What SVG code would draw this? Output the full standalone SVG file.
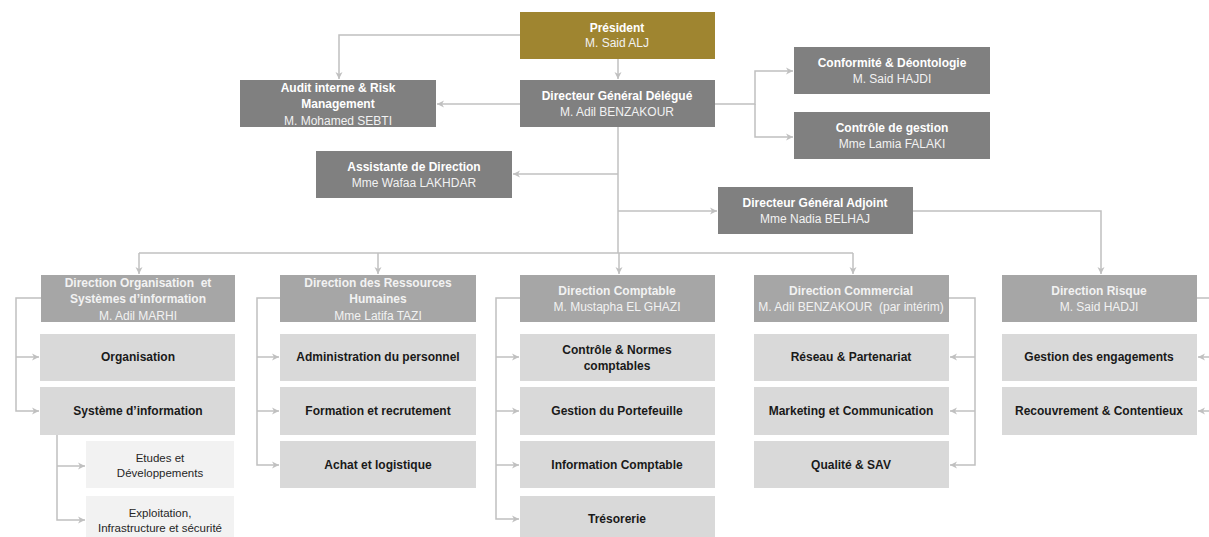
<svg xmlns="http://www.w3.org/2000/svg" width="1209" height="537" viewBox="0 0 1209 537">
<defs>
<marker id="ah" markerUnits="userSpaceOnUse" markerWidth="8" markerHeight="8" refX="7" refY="4" orient="auto">
<path d="M0,0.5 L7,4 L0,7.5 L2,4 Z" fill="#c0c0c0"/>
</marker>
<style>
text{font-family:"Liberation Sans",Arial,sans-serif;font-size:12px;text-anchor:middle}
.top rect{fill:#808080}
.pres rect{fill:#9f8530}
.dir rect{fill:#a6a6a6}
.svc rect{fill:#d9d9d9}
.sub rect{fill:#f2f2f2}
.top text,.pres text,.dir text{fill:#f2f2f2}
.b{font-weight:bold}
.top .b,.pres .b{fill:#ffffff}
.svc text{fill:#1a1a1a;font-weight:bold}
.sub text{fill:#262626;font-size:11.5px}
.c path{fill:none;stroke:#c0c0c0;stroke-width:1.5}
.c .a{marker-end:url(#ah)}
</style>
</defs>
<rect width="1209" height="537" fill="#ffffff"/>
<g class="c" id="connectors">
<path class="a" d="M520,35 H339 V79"/>
<path class="a" d="M618,59 V79"/>
<path class="a" d="M520,104 H437"/>
<path class="a" d="M715,104 H755 V71 H793"/>
<path class="a" d="M755,104 V137 H793"/>
<path d="M618,127 V253"/>
<path class="a" d="M618,174 H513"/>
<path class="a" d="M618,211 H717"/>
<path d="M139,253 H853"/>
<path class="a" d="M139,253 V274"/>
<path class="a" d="M378,253 V274"/>
<path class="a" d="M619,253 V274"/>
<path class="a" d="M853,253 V274"/>
<path class="a" d="M913,211 H1101 V274"/>
<path class="a" d="M41,298 H16 V411 H39"/>
<path class="a" d="M16,357 H39"/>
<path class="a" d="M57,435 V520 H85"/>
<path class="a" d="M57,466 H85"/>
<path class="a" d="M280,298 H257 V465 H279"/>
<path class="a" d="M257,357 H279"/>
<path class="a" d="M257,411 H279"/>
<path class="a" d="M520,298 H496 V519 H519"/>
<path class="a" d="M496,357 H519"/>
<path class="a" d="M496,411 H519"/>
<path class="a" d="M496,465 H519"/>
<path class="a" d="M949,298 H975 V465 H950"/>
<path class="a" d="M975,357 H950"/>
<path class="a" d="M975,411 H950"/>
<path class="a" d="M1197,298 H1225 V411 H1198"/>
<path class="a" d="M1225,357 H1198"/>
</g>
<g id="president" class="pres"><rect x="520" y="12" width="195" height="47"/><text x="617" y="32" class="b">Président</text><text x="617" y="47">M. Said ALJ</text></g>
<g id="audit" class="top"><rect x="240" y="80" width="196" height="47"/><text x="338" y="92" class="b">Audit interne &amp; Risk</text><text x="338" y="108" class="b">Management</text><text x="338" y="125">M. Mohamed SEBTI</text></g>
<g id="dgd" class="top"><rect x="520" y="80" width="195" height="47"/><text x="617" y="100" class="b">Directeur Général Délégué</text><text x="617" y="116">M. Adil BENZAKOUR</text></g>
<g id="assistante" class="top"><rect x="316" y="151" width="196" height="47"/><text x="414" y="171" class="b">Assistante de Direction</text><text x="414" y="187">Mme Wafaa LAKHDAR</text></g>
<g id="conformite" class="top"><rect x="794" y="47" width="196" height="47"/><text x="892" y="67" class="b">Conformité &amp; Déontologie</text><text x="892" y="83">M. Said HAJDI</text></g>
<g id="controle-gestion" class="top"><rect x="794" y="112" width="196" height="47"/><text x="892" y="132" class="b">Contrôle de gestion</text><text x="892" y="148">Mme Lamia FALAKI</text></g>
<g id="dga" class="top"><rect x="718" y="187" width="195" height="47"/><text x="815" y="207" class="b">Directeur Général Adjoint</text><text x="815" y="223">Mme Nadia BELHAJ</text></g>
<g id="dir-osi" class="dir"><rect x="41" y="275" width="194" height="47"/><text x="138" y="287" class="b">Direction Organisation &#160;et</text><text x="138" y="303" class="b">Systèmes d’information</text><text x="138" y="320">M. Adil MARHI</text></g>
<g id="dir-rh" class="dir"><rect x="280" y="275" width="196" height="47"/><text x="378" y="287" class="b">Direction des Ressources</text><text x="378" y="303" class="b">Humaines</text><text x="378" y="320">Mme Latifa TAZI</text></g>
<g id="dir-comptable" class="dir"><rect x="520" y="275" width="195" height="47"/><text x="617" y="295" class="b">Direction Comptable</text><text x="617" y="311">M. Mustapha EL GHAZI</text></g>
<g id="dir-commercial" class="dir"><rect x="754" y="275" width="195" height="47"/><text x="851" y="295" class="b">Direction Commercial</text><text x="851" y="311">M. Adil BENZAKOUR &#160;(par intérim)</text></g>
<g id="dir-risque" class="dir"><rect x="1002" y="275" width="195" height="47"/><text x="1099" y="295" class="b">Direction Risque</text><text x="1099" y="311">M. Said HADJI</text></g>
<g id="organisation" class="svc"><rect x="40" y="334" width="195" height="47"/><text x="138" y="361">Organisation</text></g>
<g id="systeme-information" class="svc"><rect x="40" y="387" width="195" height="48"/><text x="138" y="415">Système d’information</text></g>
<g id="etudes" class="sub"><rect x="86" y="441" width="148" height="47"/><text x="160" y="462">Etudes et</text><text x="160" y="477">Développements</text></g>
<g id="exploitation" class="sub"><rect x="86" y="496" width="148" height="47"/><text x="160" y="517">Exploitation,</text><text x="160" y="532">Infrastructure et sécurité</text></g>
<g id="administration" class="svc"><rect x="280" y="334" width="196" height="47"/><text x="378" y="361">Administration du personnel</text></g>
<g id="formation" class="svc"><rect x="280" y="387" width="196" height="48"/><text x="378" y="415">Formation et recrutement</text></g>
<g id="achat" class="svc"><rect x="280" y="441" width="196" height="47"/><text x="378" y="469">Achat et logistique</text></g>
<g id="controle-normes" class="svc"><rect x="520" y="334" width="195" height="47"/><text x="617" y="354">Contrôle &amp; Normes</text><text x="617" y="370">comptables</text></g>
<g id="portefeuille" class="svc"><rect x="520" y="387" width="195" height="48"/><text x="617" y="415">Gestion du Portefeuille</text></g>
<g id="info-comptable" class="svc"><rect x="520" y="441" width="195" height="47"/><text x="617" y="469">Information Comptable</text></g>
<g id="tresorerie" class="svc"><rect x="520" y="496" width="195" height="47"/><text x="617" y="523">Trésorerie</text></g>
<g id="reseau" class="svc"><rect x="754" y="334" width="195" height="47"/><text x="851" y="361">Réseau &amp; Partenariat</text></g>
<g id="marketing" class="svc"><rect x="754" y="387" width="195" height="48"/><text x="851" y="415">Marketing et Communication</text></g>
<g id="qualite" class="svc"><rect x="754" y="441" width="195" height="47"/><text x="851" y="469">Qualité &amp; SAV</text></g>
<g id="engagements" class="svc"><rect x="1002" y="334" width="195" height="47"/><text x="1099" y="361">Gestion des engagements</text></g>
<g id="recouvrement" class="svc"><rect x="1002" y="387" width="195" height="48"/><text x="1099" y="415">Recouvrement &amp; Contentieux</text></g>
</svg>
